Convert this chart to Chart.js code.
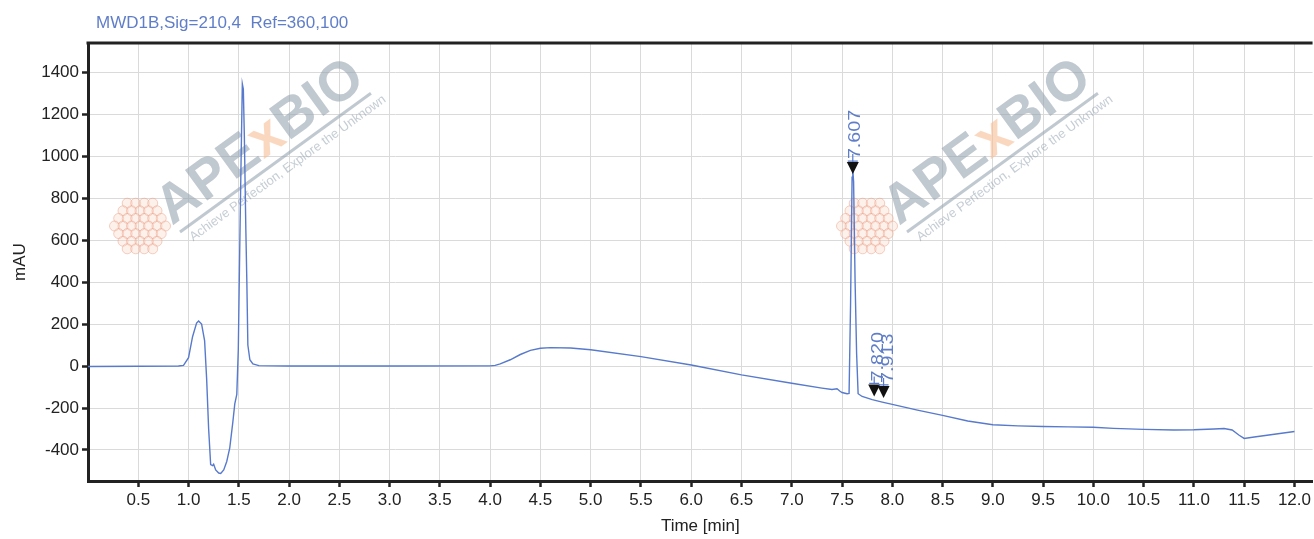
<!DOCTYPE html>
<html>
<head>
<meta charset="utf-8">
<title>MWD1B chromatogram</title>
<script src="https://cdn.jsdelivr.net/npm/chart.js@4.4.1/dist/chart.umd.min.js"></script>
<style>
  html, body { margin: 0; padding: 0; background: #fff; }
  #wrap { width: 1314px; height: 539px; }
</style>
</head>
<body>
<div id="wrap"><canvas id="hplcChart"></canvas></div>
<script>
const signalTitle = "MWD1B,Sig=210,4  Ref=360,100";

// retention time (min) and detector response (mAU)
const times = [
  0.00, 0.50, 0.90, 0.95, 1.00, 1.04, 1.08, 1.10, 1.13, 1.16, 1.18, 1.20,
  1.22, 1.24, 1.25, 1.27, 1.30, 1.32, 1.35, 1.38, 1.41, 1.44, 1.46, 1.48,
  1.495, 1.505, 1.52, 1.535, 1.545, 1.555, 1.57, 1.58, 1.59, 1.61, 1.64, 1.70,
  2.00, 3.00, 4.00, 4.05, 4.10, 4.20, 4.30, 4.40, 4.50, 4.60, 4.80, 5.00,
  5.50, 6.00, 6.50, 7.00, 7.30, 7.40, 7.45, 7.48, 7.50, 7.55, 7.57, 7.585,
  7.60, 7.607, 7.615, 7.63, 7.645, 7.66, 7.70, 7.80, 7.90, 8.00, 8.25, 8.50,
  8.75, 9.00, 9.25, 9.50, 9.75, 10.00, 10.20, 10.50, 10.80, 11.00, 11.20, 11.30,
  11.38, 11.45, 11.50, 11.60, 11.80, 12.00
];
const mAU = [
  -2, -1, 0, 3, 40, 140, 205, 215, 200, 120, -60, -300,
  -470, -475, -468, -495, -510, -512, -495, -455, -390, -270, -180, -135,
  80, 420, 900, 1345, 1320, 1100, 650, 400, 100, 30, 10, 2,
  0, 0, 1, 3, 10, 30, 55, 75, 85, 88, 86, 78,
  45, 5, -42, -82, -105, -112, -108, -120, -126, -132, -130, 300,
  900, 935, 880, 400, 60, -132, -145, -160, -172, -183, -210, -235,
  -262, -280, -285, -288, -290, -292, -297, -302, -305, -304, -300, -298,
  -305, -330, -345, -338, -325, -312
];

// integrated peaks: retention time and marker height
const peakTimes = [7.607, 7.820, 7.913];
const peakHeights = [915, -145, -152];

const xTickStep = 0.5;
const yTickStep = 200;

const lineBlue = "rgb(88, 122, 204)";
const textBlue = "rgb(96, 126, 200)";
const axisInk = "#222";
const fontFamily = "'Liberation Sans', Arial, sans-serif";

function onStep(v, step) {
  return Math.abs(v / step - Math.round(v / step)) < 1e-6;
}

// APExBIO watermark, drawn twice behind the trace
function drawLogo(ctx, cx, cy) {
  ctx.save();
  ctx.strokeStyle = "rgba(232, 150, 125, 0.45)";
  ctx.fillStyle = "rgba(250, 215, 200, 0.35)";
  ctx.lineWidth = 1;
  for (let row = -3; row <= 3; row++) {
    for (let col = -3; col <= 3; col++) {
      const bx = cx + col * 8.5 + (row % 2 ? 4.2 : 0);
      const by = cy + row * 7.6;
      if (Math.hypot(bx - cx, by - cy) > 28) continue;
      ctx.beginPath();
      ctx.arc(bx, by, 5, 0, Math.PI * 2);
      ctx.fill();
      ctx.stroke();
    }
  }
  ctx.translate(cx + 32, cy);
  ctx.rotate(-36 * Math.PI / 180);
  ctx.font = "bold 55px " + fontFamily;
  ctx.textBaseline = "alphabetic";
  ctx.fillStyle = "rgba(150, 164, 176, 0.6)";
  ctx.fillText("APE", 0, 0);
  let w = ctx.measureText("APE").width;
  ctx.fillStyle = "rgba(246, 190, 150, 0.6)";
  ctx.fillText("x", w, 0);
  w += ctx.measureText("x").width;
  ctx.fillStyle = "rgba(150, 164, 176, 0.6)";
  ctx.fillText("BIO", w, 0);
  ctx.fillRect(3, 8, 236, 3);
  ctx.font = "13px " + fontFamily;
  ctx.fillStyle = "rgba(150, 164, 176, 0.55)";
  ctx.fillText("Achieve Perfection, Explore the Unknown", 8, 25);
  ctx.restore();
}

const watermark = {
  id: "watermark",
  beforeDatasetsDraw(chart) {
    const ctx = chart.ctx;
    drawLogo(ctx, 140, 226);
    drawLogo(ctx, 867, 226);
  }
};

const frame = {
  id: "frame",
  afterDraw(chart) {
    const { ctx, chartArea } = chart;
    ctx.save();
    ctx.strokeStyle = axisInk;
    ctx.lineWidth = 3;
    ctx.beginPath();
    ctx.moveTo(chartArea.left - 1.5, chartArea.top);
    ctx.lineTo(chartArea.right, chartArea.top);
    ctx.stroke();
    ctx.font = "17px " + fontFamily;
    ctx.fillStyle = textBlue;
    ctx.textBaseline = "middle";
    ctx.fillText(signalTitle, 96, 23);
    ctx.restore();
  }
};

const peakMarks = {
  id: "peakMarks",
  afterDatasetsDraw(chart) {
    const { ctx, scales } = chart;
    peakTimes.forEach((t, i) => {
      const px = scales.x.getPixelForValue(t);
      const py = scales.y.getPixelForValue(peakHeights[i]);
      ctx.save();
      ctx.fillStyle = "#111";
      ctx.beginPath();
      ctx.moveTo(px, py);
      ctx.lineTo(px - 6, py - 12);
      ctx.lineTo(px + 6, py - 12);
      ctx.closePath();
      ctx.fill();
      ctx.strokeStyle = lineBlue;
      ctx.lineWidth = 1.2;
      ctx.beginPath();
      ctx.moveTo(px, py - 12);
      ctx.lineTo(px, py - 20);
      ctx.moveTo(px - 5, py - 13);
      ctx.lineTo(px + 5, py - 13);
      ctx.stroke();
      ctx.translate(px + 3 + i, py - 15);
      ctx.rotate(-Math.PI / 2);
      ctx.scale(1.16, 1);
      ctx.font = "17px " + fontFamily;
      ctx.fillStyle = textBlue;
      ctx.textAlign = "left";
      ctx.textBaseline = "middle";
      ctx.fillText(t.toFixed(3), 0, 0);
      ctx.restore();
    });
  }
};

const ctx = document.getElementById("hplcChart").getContext("2d");

new Chart(ctx, {
  type: "line",
  data: {
    datasets: [{
      data: times.map((t, i) => ({ x: t, y: mAU[i] })),
      borderColor: lineBlue,
      borderWidth: 1.4,
      pointRadius: 0,
      tension: 0,
      fill: false
    }]
  },
  options: {
    animation: false,
    responsive: true,
    maintainAspectRatio: false,
    layout: { padding: { top: 43, left: 0, right: 0, bottom: 0 } },
    plugins: {
      legend: { display: false },
      tooltip: { enabled: false }
    },
    scales: {
      x: {
        type: "linear",
        min: 0,
        max: 12.18,
        afterBuildTicks: s => {
          s.ticks = s.ticks.filter(t => t.value > 0.01 && onStep(t.value, xTickStep));
        },
        afterFit: s => { s.height = 58; },
        ticks: {
          stepSize: xTickStep,
          includeBounds: false,
          autoSkip: false,
          maxRotation: 0,
          padding: 3,
          color: axisInk,
          font: { family: fontFamily, size: 17 },
          callback: v => v.toFixed(1)
        },
        grid: { color: "#dadada", lineWidth: 1, tickColor: axisInk, tickLength: 6, tickWidth: 2.5 },
        border: { color: axisInk, width: 3 },
        title: {
          display: true,
          text: "Time [min]",
          color: axisInk,
          font: { family: fontFamily, size: 17 },
          padding: { top: 0, bottom: 2 }
        }
      },
      y: {
        min: -548,
        max: 1540,
        afterBuildTicks: s => {
          s.ticks = s.ticks.filter(t => onStep(t.value, yTickStep));
        },
        afterFit: s => { s.width = 88; },
        ticks: {
          stepSize: yTickStep,
          includeBounds: false,
          autoSkip: false,
          padding: 3,
          color: axisInk,
          font: { family: fontFamily, size: 17 },
          callback: v => String(v)
        },
        grid: { color: "#dadada", lineWidth: 1, tickColor: axisInk, tickLength: 6, tickWidth: 2.5 },
        border: { color: axisInk, width: 3 },
        title: {
          display: true,
          text: "mAU",
          color: axisInk,
          font: { family: fontFamily, size: 17 },
          padding: { top: 10, bottom: 0 }
        }
      }
    }
  },
  plugins: [watermark, peakMarks, frame]
});
</script>
</body>
</html>
